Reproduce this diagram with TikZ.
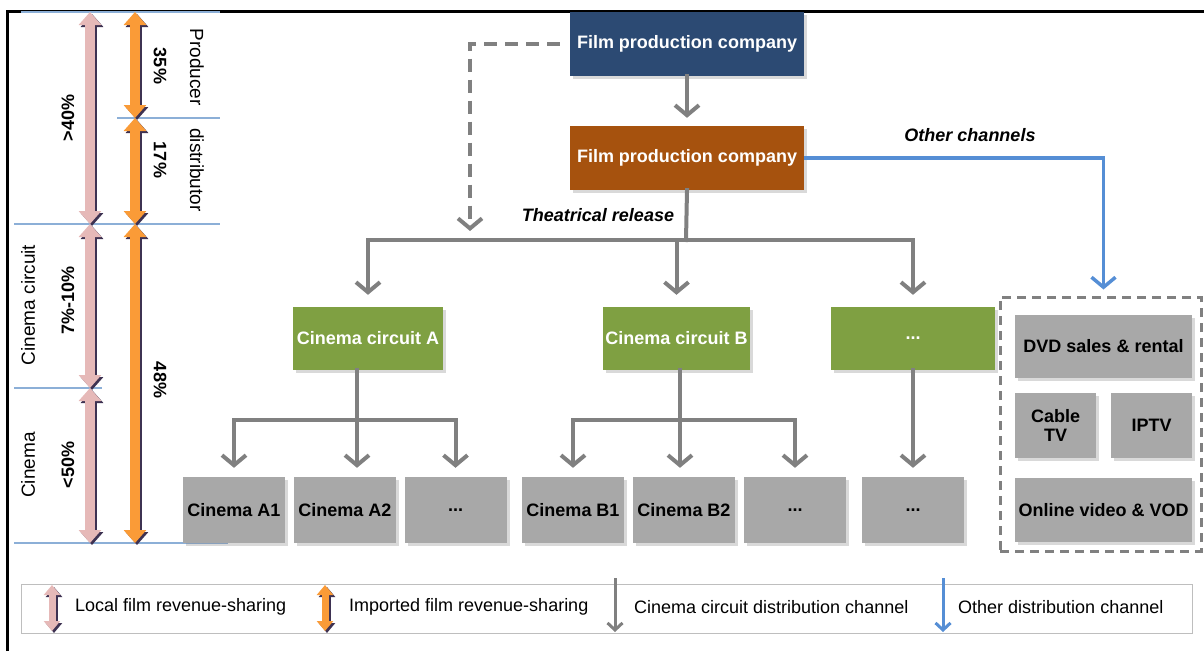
\documentclass[tikz,border=0pt]{standalone}
\usepackage{fontspec}
\setmainfont{Liberation Sans}
\usepackage{xcolor}
\usetikzlibrary{arrows.meta,shadows}

\definecolor{prodblue}{RGB}{44,74,115}
\definecolor{distorange}{RGB}{166,82,14}
\definecolor{circgreen}{RGB}{127,160,66}
\definecolor{boxgray}{RGB}{168,168,168}
\definecolor{arrgray}{RGB}{128,128,128}
\definecolor{arrblue}{RGB}{85,142,213}
\definecolor{sharepink}{RGB}{230,185,184}
\definecolor{shareorange}{RGB}{250,155,55}
\definecolor{sharedark}{RGB}{62,50,82}
\definecolor{levelblue}{RGB}{140,175,215}
\definecolor{legframe}{RGB}{190,190,190}

\begin{document}
\begin{tikzpicture}[x=1pt,y=-1pt,
    box/.style={shape=rectangle, inner sep=2pt, align=center,
      font=\bfseries\fontsize{18}{19.5}\selectfont,
      drop shadow={shadow xshift=3pt, shadow yshift=-3pt, opacity=0.3}},
    prodbox/.style={box, fill=prodblue, text=white, minimum width=234pt, minimum height=64pt},
    distbox/.style={box, fill=distorange, text=white, minimum width=234pt, minimum height=64pt},
    circbox/.style={box, fill=circgreen, text=white, minimum height=63pt},
    cinbox/.style={box, fill=boxgray, text=black, minimum width=102pt, minimum height=66pt},
    chanbox/.style={box, fill=boxgray, text=black, minimum height=64pt},
    gline/.style={draw=arrgray, line width=4pt, line cap=rect},
    garrow/.style={gline, -{Straight Barb[length=10pt,width=24pt]}},
    barrow/.style={draw=arrblue, line width=3.5pt, -{Straight Barb[length=10pt,width=24pt]}},
    sharearr/.style={line width=10pt, {Triangle[length=13pt,width=22pt]}-{Triangle[length=13pt,width=22pt]}},
    legarr/.style={line width=7pt, {Triangle[length=10pt,width=16pt]}-{Triangle[length=10pt,width=16pt]}},
    level/.style={draw=levelblue, line width=1.2pt},
    share/.style={font=\bfseries\fontsize{18}{20}\selectfont},
    party/.style={font=\fontsize{19}{21}\selectfont},
    channel/.style={font=\bfseries\itshape\fontsize{18}{19.5}\selectfont},
    legtext/.style={font=\fontsize{18}{20}\selectfont, anchor=west, inner sep=0pt}]
    \useasboundingbox (0,0) rectangle (1204,651);
    \draw[line width=3pt] (7,651) -- (7,11) -- (1204,11);

    % revenue-sharing scale
    \draw[level] (21,12) -- (220,12);
    \draw[level] (117,118) -- (220,118);
    \draw[level] (14,224) -- (220,224);
    \draw[level] (14,388) -- (102,388);
    \draw[level] (14,543) -- (228,543);
    \foreach \ya/\yb in {12/224, 224/388, 388/543} {
      \draw[sharearr, draw=sharedark, xshift=2pt, yshift=-2pt] (90,\ya) -- (90,\yb);
      \draw[sharearr, draw=sharepink] (90,\ya) -- (90,\yb);
    }
    \foreach \ya/\yb in {12/118, 118/224, 224/543} {
      \draw[sharearr, draw=sharedark, xshift=2pt, yshift=-2pt] (135,\ya) -- (135,\yb);
      \draw[sharearr, draw=shareorange] (135,\ya) -- (135,\yb);
    }
    \node[share, rotate=90] (s40) at (68,118) {>40\%};
    \node[share, rotate=90] (s7) at (68,300) {7\%-10\%};
    \node[share, rotate=90] (s50) at (68,465) {<50\%};
    \node[share, rotate=-90] (s35) at (160,66) {35\%};
    \node[share, rotate=-90] (s17) at (160,160) {17\%};
    \node[share, rotate=-90] (s48) at (160,380) {48\%};
    \node[party, rotate=-90] (pprod) at (197,67) {Producer};
    \node[party, rotate=-90] (pdist) at (197,170) {distributor};
    \node[party, rotate=90] (pcirc) at (28,305) {Cinema circuit};
    \node[party, rotate=90] (pcin) at (28,465) {Cinema};

    % boxes
    \node[prodbox] (prod) at (687,43.5) {Film production company};
    \node[distbox] (dist) at (687,158) {Film production company};
    \node[circbox, minimum width=150pt] (circA) at (368,338.5) {Cinema circuit A};
    \node[circbox, minimum width=147pt] (circB) at (676.5,338.5) {Cinema circuit B};
    \node[circbox, minimum width=164pt] (circX) at (913,338.5) {...};
    \node[cinbox] (cA1) at (234,510) {Cinema A1};
    \node[cinbox] (cA2) at (345,510) {Cinema A2};
    \node[cinbox] (cA3) at (455.5,510) {...};
    \node[cinbox] (cB1) at (573,510) {Cinema B1};
    \node[cinbox] (cB2) at (684,510) {Cinema B2};
    \node[cinbox] (cB3) at (795,510) {...};
    \node[cinbox] (cX1) at (913,510) {...};
    \node[draw=arrgray, line width=3pt, dash pattern=on 9pt off 6pt,
      minimum width=201pt, minimum height=254pt] (others) at (1100.5,424) {};
    \node[chanbox, minimum width=177pt, minimum height=63pt] (dvd) at (1103.5,346.5) {DVD sales \& rental};
    \node[chanbox, minimum width=81pt, minimum height=65pt] (cable) at (1055.5,425.5) {Cable\\TV};
    \node[chanbox, minimum width=81pt, minimum height=65pt] (iptv) at (1151.5,425.5) {IPTV};
    \node[chanbox, minimum width=177pt] (online) at (1103.5,510) {Online video \& VOD};

    % distribution channels
    \coordinate (dtip) at (470,231);
    \coordinate (tbar) at (686,240);
    \coordinate (abar) at (357,420);
    \coordinate (bbar) at (680,420);
    \draw[garrow, shorten >=8pt] (prod) -- (dist);
    \draw[garrow, line cap=butt, dash pattern=on 13pt off 8pt] ([xshift=-10pt]prod.west) -| (dtip);
    \draw[gline] (dist.south) -- (tbar);
    \draw[gline] (circA.north |- tbar) -- (circX.north |- tbar);
    \foreach \c in {circA, circB, circX}
      \draw[garrow, shorten >=12pt] (\c.north |- tbar) -- (\c.north);
    \draw[gline] (circA.south -| abar) -- (abar);
    \draw[gline] (abar -| cA1) -- (abar -| cA3);
    \draw[gline] (circB.south -| bbar) -- (bbar);
    \draw[gline] (bbar -| cB1) -- (bbar -| cB3);
    \foreach \c in {cA1, cA3, cB1, cB3}
      \draw[garrow, shorten >=9pt] (abar -| \c) -- (\c.north);
    \draw[garrow, shorten >=9pt] (abar) -- (cA2.north -| abar);
    \draw[garrow, shorten >=9pt] (bbar) -- (cB2.north -| bbar);
    \draw[garrow, shorten >=9pt] (circX.south) -- (cX1.north);
    \draw[barrow, shorten >=6pt] (dist.east) -| (others.north -| dvd);
    \node[channel] (theat) at (598,215) {Theatrical release};
    \node[channel] (other) at (970,135) {Other channels};

    % legend
    \draw[draw=legframe, line width=1pt] (21,584) rectangle (1192,633);
    \draw[legarr, draw=sharedark, xshift=2pt, yshift=-2pt] (52,585) -- (52,631);
    \draw[legarr, draw=sharepink] (52,585) -- (52,631);
    \node[legtext] (legA) at (75,607) {Local film revenue-sharing};
    \draw[legarr, draw=sharedark, xshift=2pt, yshift=-2pt] (325,585) -- (325,631);
    \draw[legarr, draw=shareorange] (325,585) -- (325,631);
    \node[legtext] (legB) at (349,607) {Imported film revenue-sharing};
    \draw[draw=arrgray, line width=3pt, -{Straight Barb[length=7pt,width=15pt]}] (615,578) -- (615,632);
    \node[legtext] (legC) at (634,607) {Cinema circuit distribution channel};
    \draw[draw=arrblue, line width=3pt, -{Straight Barb[length=7pt,width=15pt]}] (943,578) -- (943,632);
    \node[legtext] (legD) at (958,607) {Other distribution channel};
\end{tikzpicture}
\end{document}
